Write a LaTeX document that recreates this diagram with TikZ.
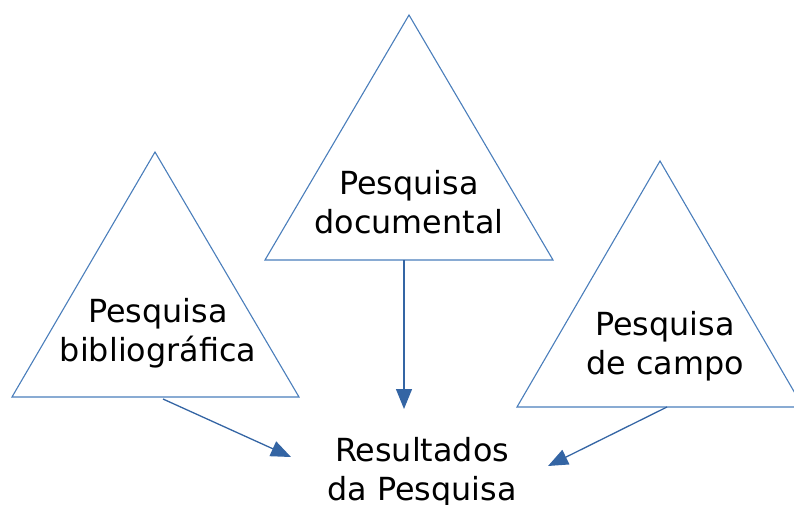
\documentclass[tikz,border=0pt]{standalone}
\usepackage{fontspec}
\setmainfont{DejaVu Sans}
\usetikzlibrary{arrows.meta}
\definecolor{lineblue}{HTML}{4A7EBB}
\definecolor{arrowblue}{HTML}{3465A4}

\begin{document}
\begin{tikzpicture}[x=1pt, y=-1pt,
	tri/.style={draw=lineblue, line width=1.1pt},
	txt/.style={align=center, font=\fontsize{31.8}{39}\selectfont, inner sep=0pt},
	link/.style={draw=arrowblue, line width=1.3pt, -{Triangle[length=20pt,width=16pt]}}]
	\useasboundingbox (0,0) rectangle (794,505);
	% triangles
	\draw[tri] (12,397) -- (155,152) -- (299,397) -- cycle;
	\draw[tri] (265,260) -- (409,15) -- (553,260) -- cycle;
	\draw[tri] (517,407) -- (660,161) -- (803,407) -- cycle;
	% texts
	\node[txt] (biblio) at (158,333) {Pesquisa\\bibliográfica};
	\node[txt] (docum) at (409,202) {Pesquisa\\documental};
	\node[txt] (campo) at (665,346) {Pesquisa\\de campo};
	\node[txt] (result) at (422,472) {Resultados\\da Pesquisa};
	% arrow ends
	\coordinate (biblioout) at (163,399);
	\coordinate (documout) at (404,260);
	\coordinate (campoout) at (667,407);
	\coordinate (resleft) at (291,457);
	\coordinate (restop) at (404,409);
	\coordinate (resright) at (548,466);
	\draw[link] (biblioout) -- (resleft);
	\draw[link] (documout) -- (restop);
	\draw[link] (campoout) -- (resright);
\end{tikzpicture}
\end{document}
